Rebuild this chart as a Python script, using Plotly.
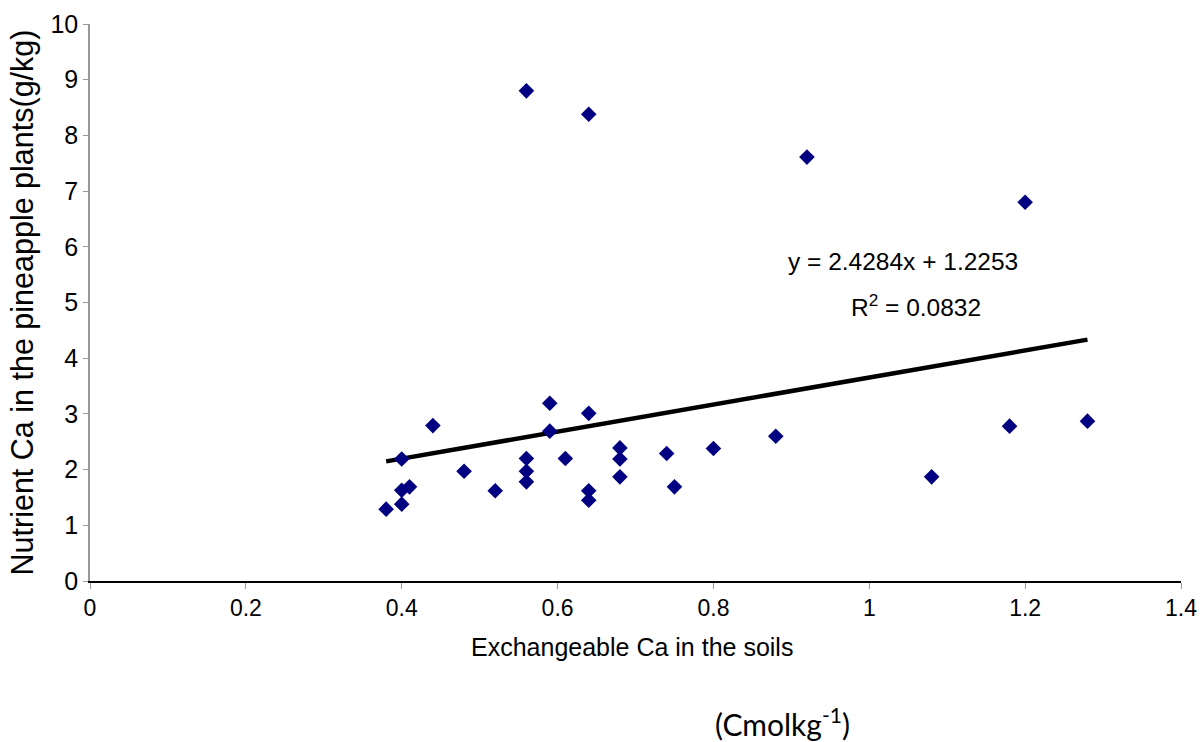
import plotly.graph_objects as go

# Data
soil_ca = [0.38, 0.40, 0.40, 0.40, 0.41, 0.44, 0.48, 0.52, 0.56, 0.56, 0.56, 0.56,
           0.59, 0.59, 0.61, 0.64, 0.64, 0.64, 0.64, 0.68, 0.68, 0.68, 0.74, 0.75,
           0.80, 0.88, 0.92, 1.08, 1.18, 1.20, 1.28]
plant_ca = [1.29, 2.19, 1.63, 1.38, 1.69, 2.79, 1.97, 1.62, 8.80, 2.20, 1.97, 1.78,
            3.19, 2.69, 2.20, 8.38, 3.01, 1.62, 1.45, 2.39, 2.19, 1.87, 2.29, 1.69,
            2.38, 2.60, 7.61, 1.87, 2.78, 6.80, 2.87]
slope = 2.4284
intercept = 1.2253
r_squared = 0.0832
x_ticks = [0, 0.2, 0.4, 0.6, 0.8, 1, 1.2, 1.4]
x_tick_text = ["0", "0.2", "0.4", "0.6", "0.8", "1", "1.2", "1.4"]
y_ticks = list(range(0, 11))

trend_x = [min(soil_ca), max(soil_ca)]
trend_y = [slope * v + intercept for v in trend_x]

REG = "Liberation Sans, Arial, sans-serif"

fig = go.Figure()
fig.add_trace(go.Scatter(x=trend_x, y=trend_y, mode="lines",
                         line=dict(color="black", width=4.5), hoverinfo="skip"))
fig.add_trace(go.Scatter(x=soil_ca, y=plant_ca, mode="markers",
                         marker=dict(symbol="diamond", size=12, color="#000080",
                                     line=dict(width=0))))

fig.add_annotation(x=1.043, y=5.73, xref="x", yref="y",
                   xanchor="center", yanchor="middle",
                   text=f"y = {slope}x + {intercept}", showarrow=False,
                   font=dict(family=REG, size=24.5, color="black"))
fig.add_annotation(x=1.06, y=4.95, xref="x", yref="y",
                   xanchor="center", yanchor="middle",
                   text=f"R<sup>2</sup> = {r_squared}", showarrow=False,
                   font=dict(family=REG, size=24.5, color="black"))
fig.add_annotation(x=(632 - 90) / 1091, y=-(647 - 581) / 557, xref="paper", yref="paper",
                   xanchor="center", yanchor="middle",
                   text="Exchangeable Ca in the soils", showarrow=False,
                   font=dict(family=REG, size=25, color="black"))
fig.add_annotation(x=(782 - 90) / 1091, y=-(722 - 581) / 557, xref="paper", yref="paper",
                   xanchor="center", yanchor="middle",
                   text="(Cmolkg<sup>-1</sup>)", showarrow=False,
                   font=dict(family="Lato, Open Sans, sans-serif", size=30, color="black"))

fig.update_layout(
    width=1201, height=742,
    margin=dict(l=90, r=20, t=24, b=161),
    plot_bgcolor="white", paper_bgcolor="white",
    showlegend=False,
    xaxis=dict(range=[0, 1.4], tickvals=x_ticks, ticktext=x_tick_text,
               automargin=False,
               showgrid=False, zeroline=False,
               showline=True, linecolor="black", linewidth=1.5,
               ticks="outside", ticklen=6, tickcolor="#999999", tickwidth=1,
               tickfont=dict(family=REG, size=23, color="black")),
    yaxis=dict(range=[0, 10], tickvals=y_ticks,
               automargin=False,
               showgrid=False, zeroline=False,
               showline=True, linecolor="#999999", linewidth=1.5,
               ticks="outside", ticklen=5, tickcolor="#999999", tickwidth=1,
               tickfont=dict(family=REG, size=25, color="black"),
               title=dict(text="Nutrient Ca in the pineapple plants(g/kg)",
                          font=dict(family=REG, size=30.5, color="black"), standoff=8)),
)

fig.write_html("out.html")
